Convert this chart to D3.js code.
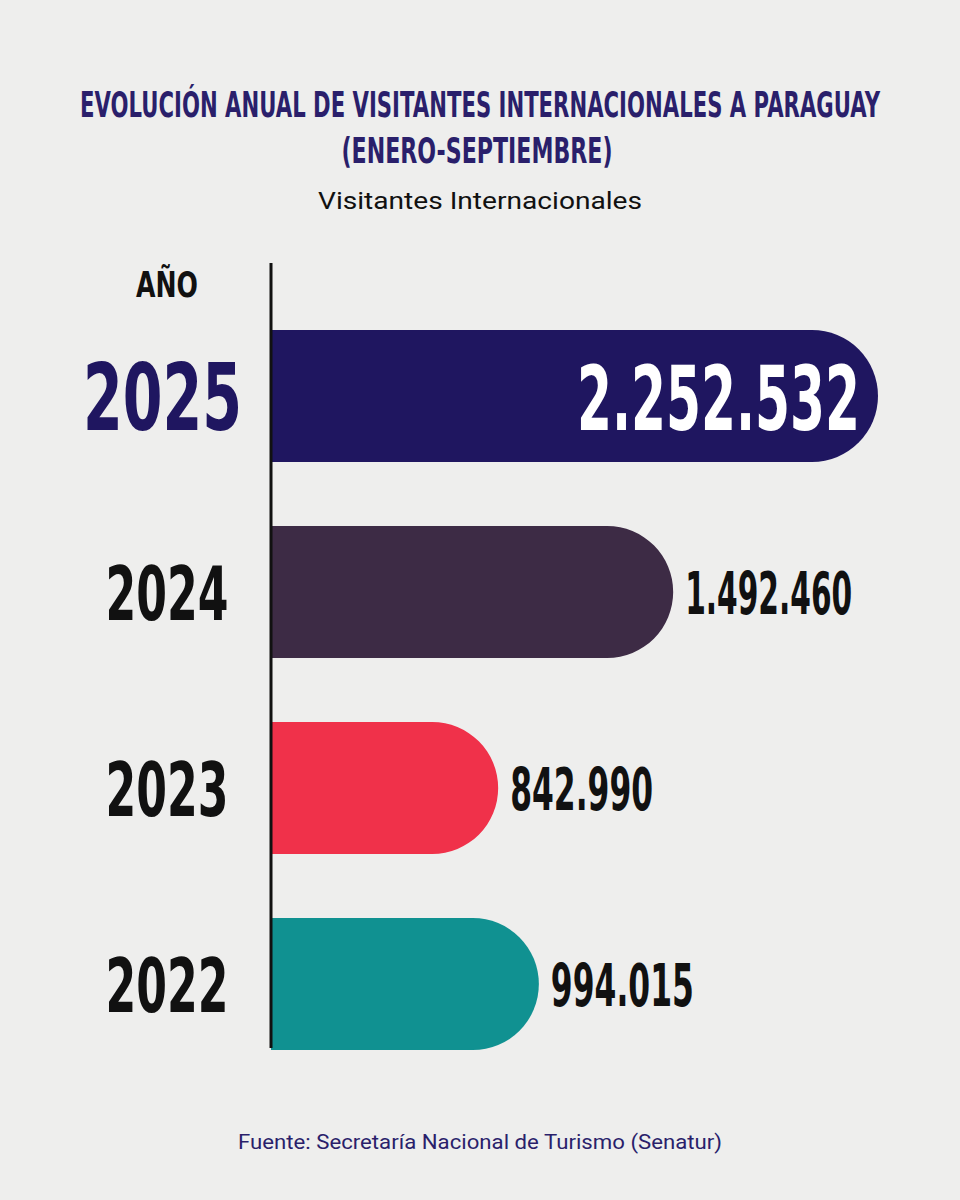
<!DOCTYPE html>
<html><head><meta charset="utf-8">
<script src="https://cdn.jsdelivr.net/npm/d3@7"></script>
<style>body{margin:0;background:#eeeeed}</style></head>
<body><script>
const years = ["2025","2024","2023","2022"];
const values = [2252532,1492460,842990,994015];
const labels = ["2.252.532","1.492.460","842.990","994.015"];
const colors = ["#1f1660","#3d2b45","#f0314a","#109191"];

const W=960,H=1200;
const cond = "'DejaVu Sans',sans-serif";
const svg=d3.select("body").append("svg").attr("width",W).attr("height",H);
svg.append("rect").attr("width",W).attr("height",H).attr("fill","#eeeeed");

const x=d3.scaleLinear().domain([0,2252532]).range([271,878]);
const y=d3.scaleBand().domain(years).range([330,1050]).paddingInner(0.327).paddingOuter(0);

function ctext(xp,yp,anchor,size,fill,txt,len,fam){
  return svg.append("text").attr("x",xp).attr("y",yp).attr("text-anchor",anchor)
   .attr("font-family",fam||cond).attr("font-weight",fam?"normal":"bold").attr("font-size",size).attr("fill",fill)
   .attr("textLength",len).attr("lengthAdjust","spacingAndGlyphs").text(txt);
}
ctext(480,117,"middle",35,"#2a1f6b","EVOLUCIÓN ANUAL DE VISITANTES INTERNACIONALES A PARAGUAY",800);
ctext(477,163,"middle",35,"#2a1f6b","(ENERO-SEPTIEMBRE)",271);
ctext(480,209,"middle",23,"#111","Visitantes Internacionales",324,"Roboto");
ctext(167,297,"middle",35,"#111","AÑO",62);

const bh=y.bandwidth(), r=bh/2;
years.forEach((yr,i)=>{
  const y0=y(yr), x0=x(0), x1=x(values[i]);
  svg.append("path").attr("fill",colors[i])
   .attr("d",`M${x0},${y0}H${x1-r}A${r},${r} 0 0 1 ${x1},${y0+r}A${r},${r} 0 0 1 ${x1-r},${y0+bh}H${x0}Z`);
  if(i===0){
    ctext(242,y0+100,"end",93,"#1f1660",yr,159);
    ctext(860,y0+100,"end",89,"#fff",labels[i],283);
  } else {
    ctext(167,y0+94,"middle",75,"#111",yr,123);
    ctext(x1+12,y0+88,"start",58,"#111",labels[i],i===1?167:143);
  }
});
svg.append("line").attr("x1",271).attr("x2",271).attr("y1",263).attr("y2",1048)
 .attr("stroke","#111").attr("stroke-width",3);
ctext(480,1149,"middle",20,"#2a1f6b","Fuente: Secretaría Nacional de Turismo (Senatur)",484,"Roboto");
</script></body></html>
